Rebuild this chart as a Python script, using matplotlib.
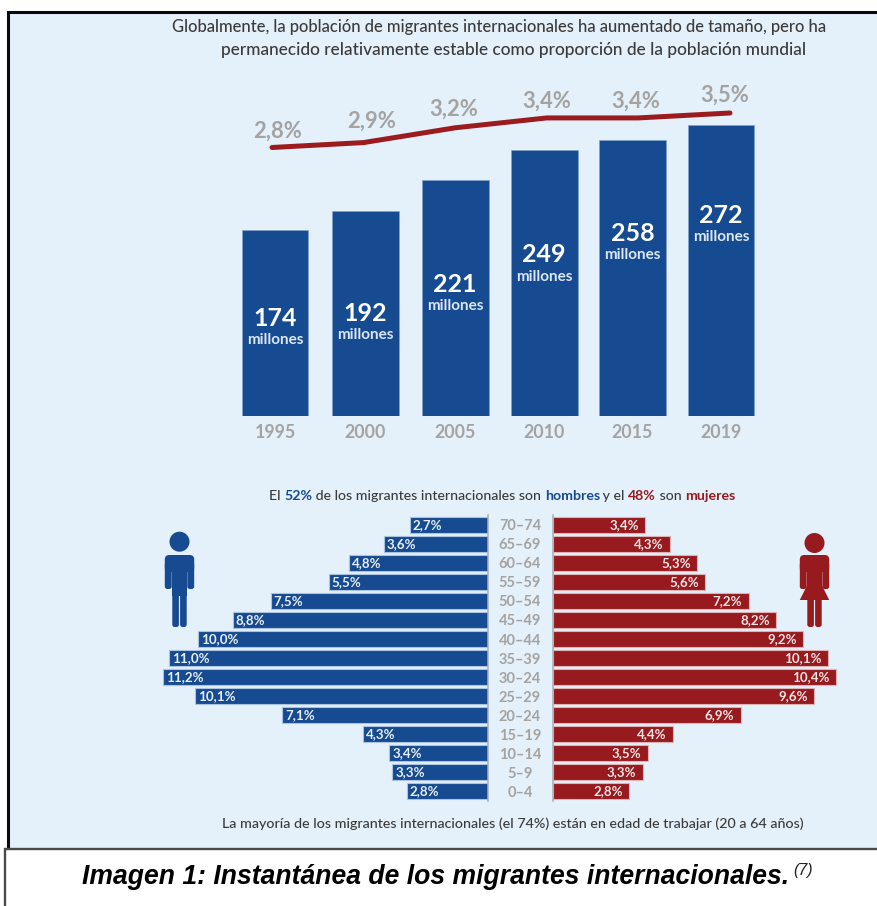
import matplotlib
matplotlib.use("Agg")
import matplotlib.pyplot as plt
from matplotlib.patches import Rectangle, Circle, FancyBboxPatch, Polygon

# Data
years = ["1995", "2000", "2005", "2010", "2015", "2019"]
migrants = [174, 192, 221, 249, 258, 272]
world_share = [2.8, 2.9, 3.2, 3.4, 3.4, 3.5]
age_groups = ["70–74", "65–69", "60–64", "55–59", "50–54", "45–49", "40–44", "35–39",
              "30–24", "25–29", "20–24", "15–19", "10–14", "5–9", "0–4"]
men = [2.7, 3.6, 4.8, 5.5, 7.5, 8.8, 10.0, 11.0, 11.2, 10.1, 7.1, 4.3, 3.4, 3.3, 2.8]
women = [3.4, 4.3, 5.3, 5.6, 7.2, 8.2, 9.2, 10.1, 10.4, 9.6, 6.9, 4.4, 3.5, 3.3, 2.8]

# Layout and colours
W, H = 877, 906
PANEL = "#e4f0fa"
BLUE = "#164a91"
RED = "#971a1e"
GREY = "#a5a3a1"
DARK = "#3b3b3b"
SANS = "Lato"
PX = 0.72  # points per pixel at 100 dpi
bar_slots = [0, 1.012, 2.02, 3.016, 4.008, 5]
bar_label_offsets = [-88, -102, -104, -104.5, -93, -90]
share_offsets = [(6, 16.5), (8.4, 21.6), (-1, 18.8), (0, 17), (-2.4, 17), (-5, 18)]

fig = plt.figure(figsize=(W / 100, H / 100), dpi=100, facecolor="white")


def axes_px(left, top, right, bottom, zorder=1):
    ax = fig.add_axes([left / W, 1 - bottom / H, (right - left) / W, (bottom - top) / H], zorder=zorder)
    ax.patch.set_alpha(0)
    return ax


# Full-size canvas in pixel units for the frame, headings and icons
canvas = axes_px(0, 0, W, H, zorder=0)
canvas.set_xlim(0, W)
canvas.set_ylim(H, 0)
canvas.axis("off")
canvas.add_patch(Rectangle((8, 12), W, 836, fc=PANEL, ec="none"))
canvas.plot([8, 8, W], [848, 12, 12], color="#0a0a0a", lw=2.2, solid_joinstyle="miter")
canvas.add_patch(Rectangle((5, 849), W, 60, fc="white", ec="none"))
canvas.plot([5, 5, W], [H, 849, 849], color="#4a4a4a", lw=1.7, solid_joinstyle="miter")


def run_text(x, y, parts, size):
    """Draw coloured text runs one after another, starting at pixel x."""
    renderer = fig.canvas.get_renderer()
    prefix = ""
    for content, color, weight in parts:
        if prefix:
            probe = canvas.text(0, 0, prefix + "|", fontsize=size, fontweight="medium", family=SANS)
            bar = canvas.text(0, 0, "|", fontsize=size, fontweight="medium", family=SANS)
            start = x + probe.get_window_extent(renderer).width - bar.get_window_extent(renderer).width
            probe.remove()
            bar.remove()
        else:
            start = x
        canvas.text(start, y, content, color=color, fontsize=size, fontweight=weight,
                    family=SANS, ha="left", va="center")
        prefix += content


canvas.text(499.5, 27, "Globalmente, la población de migrantes internacionales ha aumentado de tamaño, pero ha",
            fontsize=11.9, family=SANS, color=DARK, ha="center", va="center", fontweight="medium")
canvas.text(513.5, 50, "permanecido relativamente estable como proporción de la población mundial",
            fontsize=12.4, family=SANS, color=DARK, ha="center", va="center", fontweight="medium")
run_text(269, 495.5, [("El ", DARK, "medium"), ("52%", BLUE, "bold"),
                      (" de los migrantes internacionales son ", DARK, "medium"),
                      ("hombres", BLUE, "bold"), (" y el ", DARK, "medium"), ("48%", RED, "bold"),
                      (" son ", DARK, "medium"), ("mujeres", RED, "bold")], 10.2)
canvas.text(512.5, 823.5, "La mayoría de los migrantes internacionales (el 74%) están en edad de trabajar (20 a 64 años)",
            fontsize=10.3, family=SANS, color=DARK, ha="center", va="center", fontweight="medium")
canvas.text(82, 877, "Imagen 1: Instantánea de los migrantes internacionales.",
            fontsize=19.1, family="Liberation Sans", fontweight="bold", fontstyle="italic",
            color="black", ha="left", va="center")
canvas.text(793, 870, "(7)", fontsize=11.5, family="Liberation Sans", fontstyle="italic",
            color="#222222", ha="left", va="center")


def rounded(x0, y0, x1, y1, color, r=2.5):
    canvas.add_patch(FancyBboxPatch((x0 + r, y0 + r), x1 - x0 - 2 * r, y1 - y0 - 2 * r,
                                    boxstyle=f"round,pad={r},rounding_size={r}", fc=color, ec="none"))


def person(cx, head_y, color, skirt=False):
    canvas.add_patch(Circle((cx, head_y), 10, fc=color, ec="none"))
    rounded(cx - 14.7, 555, cx + 14.7, 572, color, r=4.5)
    rounded(cx - 14.7, 562, cx - 7.8, 589, color)
    rounded(cx + 7.8, 562, cx + 14.7, 589, color)
    canvas.add_patch(Rectangle((cx - 7.2, 558), 14.4, 38, fc=color, ec="none"))
    rounded(cx - 7.2, 590, cx - 0.6, 627, color)
    rounded(cx + 0.6, 590, cx + 7.2, 627, color)
    if skirt:
        canvas.add_patch(Polygon([(cx - 7.2, 585), (cx + 7.2, 585), (cx + 14.7, 600), (cx - 14.7, 600)],
                                 closed=True, fc=color, ec="none"))


person(179.5, 541.7, BLUE)
person(814.5, 543, RED, skirt=True)

# Migrant stock columns
ax_bars = axes_px(230.4, 116.5, 765.6, 416.5, zorder=2)
ax_bars.set_xlim(-0.5, 5.5)
ax_bars.set_ylim(0, 300 / 1.07)
ax_bars.bar(bar_slots, migrants, width=0.751, color=BLUE, edgecolor="#7fa3cf", linewidth=0.5)
for s in ax_bars.spines.values():
    s.set_visible(False)
ax_bars.set_yticks([])
ax_bars.set_xticks(bar_slots, years, family=SANS, fontweight="bold", fontsize=12.8, color=GREY)
ax_bars.tick_params(axis="x", length=0, pad=5.5)
for slot, value, off in zip(bar_slots, migrants, bar_label_offsets):
    ax_bars.annotate(str(value), (slot, value), xytext=(0, off * PX), textcoords="offset points",
                     ha="center", va="center", color="white", fontsize=18, fontweight="bold", family=SANS)
    ax_bars.annotate("millones", (slot, value), xytext=(0, (off - 22) * PX), textcoords="offset points",
                     ha="center", va="center", color="#dbe6f3", fontsize=11, fontweight="bold", family=SANS)

# Share of world population, drawn over the columns
ax_line = axes_px(272 - 91.6, 100, 730 + 91.6, 160, zorder=3)
ax_line.set_xlim(-1, 6)
ax_line.set_ylim(2.8 - 12.5 / 49.3, 3.5 + 13 / 49.3)
ax_line.axis("off")
slots = range(len(world_share))
ax_line.plot(slots, world_share, color="#9b1b1f", lw=3.6, solid_capstyle="round", solid_joinstyle="round")
for i, share, (dx, dy) in zip(slots, world_share, share_offsets):
    ax_line.annotate(f"{share:.1f}%".replace(".", ","), (i, share), xytext=(dx * PX, dy * PX),
                     textcoords="offset points", ha="center", va="center", color=GREY,
                     fontsize=15.8, fontweight="bold", family=SANS, annotation_clip=False)

# Age pyramid: each side has its own horizontal scale
rows = list(range(len(age_groups)))
TOP, BOTTOM = 515.2, 800.9
ax_men = axes_px(488 - 29 * 12, TOP, 488, BOTTOM, zorder=2)
ax_men.set_xlim(12, 0)
ax_women = axes_px(553, TOP, 553 + 27.2 * 11.5, BOTTOM, zorder=2)
ax_women.set_xlim(0, 11.5)
for ax in (ax_men, ax_women):
    ax.set_ylim(14.5, -0.5)
    ax.set_xticks([])
    for s in ax.spines.values():
        s.set_visible(False)
ax_men.barh(rows, men, height=0.84, color=BLUE, edgecolor="#a9c3e0", linewidth=0.8)
ax_women.barh(rows, women, height=0.84, color=RED, edgecolor="#dcb4b6", linewidth=0.8)
ax_men.spines["right"].set_visible(True)
ax_men.spines["right"].set_color("#a8adb3")
ax_men.spines["right"].set_linewidth(1.1)
ax_women.spines["left"].set_visible(True)
ax_women.spines["left"].set_color("#a8adb3")
ax_women.spines["left"].set_linewidth(1.1)
ax_women.set_yticks([])
ax_men.yaxis.tick_right()
ax_men.set_yticks(rows, age_groups, family=SANS, fontweight="bold", fontsize=10.5, color=GREY, ha="center")
ax_men.tick_params(axis="y", length=0, pad=32 * PX)
for r, v in zip(rows, men):
    ax_men.annotate(f"{v:.1f}%".replace(".", ","), (v, r), xytext=(3 * PX, 0), textcoords="offset points",
                    ha="left", va="center", color="#e8eef6", fontsize=9.6, fontweight="bold", family=SANS)
for r, v in zip(rows, women):
    ax_women.annotate(f"{v:.1f}%".replace(".", ","), (v, r), xytext=(-6.5 * PX, 0), textcoords="offset points",
                      ha="right", va="center", color="#f4e4e4", fontsize=9.6, fontweight="bold", family=SANS)

fig.savefig("out.png", dpi=100)
